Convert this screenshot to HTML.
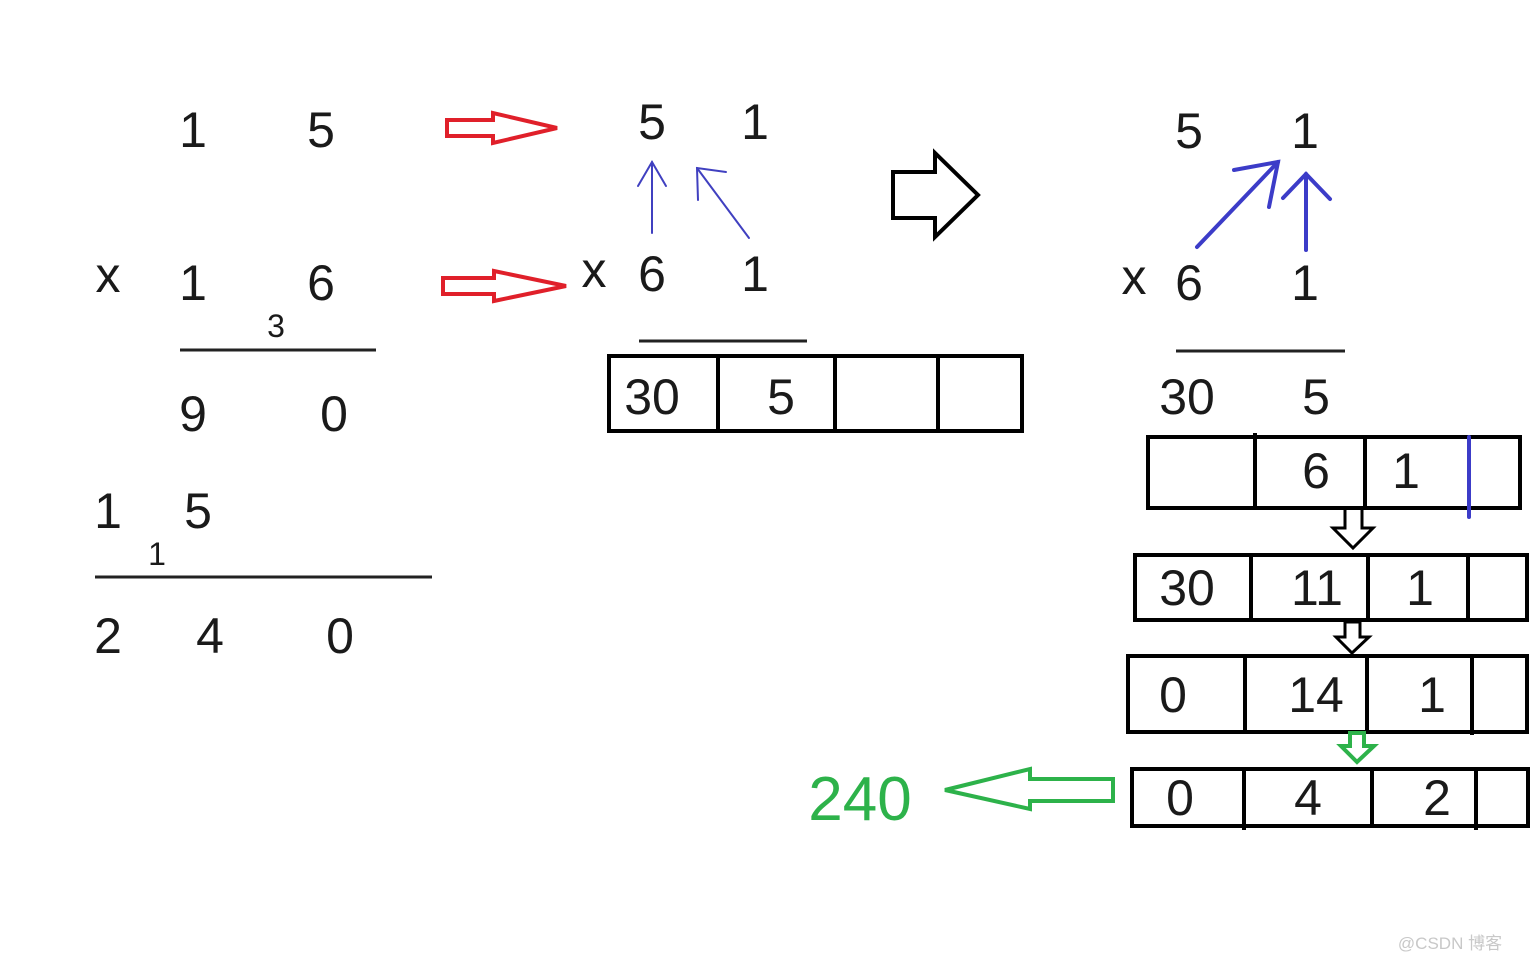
<!DOCTYPE html>
<html><head><meta charset="utf-8"><style>
html,body{margin:0;padding:0;background:#fff;}
svg{display:block;}
text{font-family:"Liberation Sans","Noto Sans CJK SC",sans-serif;fill:#1a1a1a;text-anchor:middle;}
</style></head><body>
<svg width="1536" height="960" viewBox="0 0 1536 960" xmlns="http://www.w3.org/2000/svg">
<g font-size="50">
<!-- left -->
<text x="193" y="147">1</text><text x="321" y="147">5</text>
<text x="108" y="292">x</text><text x="193" y="300">1</text><text x="321" y="300">6</text>
<text x="276" y="337" font-size="32">3</text>
<text x="193" y="431">9</text><text x="334" y="431">0</text>
<text x="108" y="528">1</text><text x="198" y="528">5</text>
<text x="157" y="565" font-size="32">1</text>
<text x="108" y="653">2</text><text x="210" y="653">4</text><text x="340" y="653">0</text>
<!-- middle -->
<text x="652" y="139">5</text><text x="755" y="139">1</text>
<text x="594" y="287">x</text><text x="652" y="291">6</text><text x="755" y="291">1</text>
<text x="652" y="414">30</text><text x="781" y="414">5</text>
<!-- right -->
<text x="1189" y="148">5</text><text x="1305" y="148">1</text>
<text x="1134" y="294">x</text><text x="1189" y="300">6</text><text x="1305" y="300">1</text>
<text x="1187" y="414">30</text><text x="1316" y="414">5</text>
<text x="1316" y="488">6</text><text x="1406" y="488">1</text>
<text x="1187" y="605">30</text><text x="1317" y="605">11</text><text x="1420" y="605">1</text>
<text x="1173" y="712">0</text><text x="1316" y="712">14</text><text x="1432" y="712">1</text>
<text x="1180" y="815">0</text><text x="1308" y="815">4</text><text x="1437" y="815">2</text>
<text x="860" y="820" font-size="62" style="fill:#2db24a">240</text>
</g>
<g stroke="#222" stroke-width="3" fill="none">
<line x1="180" y1="350" x2="376" y2="350"/>
<line x1="95" y1="577" x2="432" y2="577"/>
<line x1="639" y1="341" x2="807" y2="341"/>
<line x1="1176" y1="351" x2="1345" y2="351"/>
</g>
<g stroke="#000" stroke-width="4" fill="none">
<rect x="609" y="356" width="413" height="75"/>
<line x1="718" y1="356" x2="718" y2="431"/><line x1="835" y1="356" x2="835" y2="431"/><line x1="938" y1="356" x2="938" y2="433"/>
<rect x="1148" y="437" width="372" height="71"/>
<line x1="1255" y1="433" x2="1255" y2="508"/><line x1="1365" y1="437" x2="1365" y2="508"/>
<rect x="1135" y="555" width="392" height="65"/>
<line x1="1251" y1="555" x2="1251" y2="620"/><line x1="1368" y1="555" x2="1368" y2="622"/><line x1="1468" y1="555" x2="1468" y2="620"/>
<rect x="1128" y="656" width="399" height="76"/>
<line x1="1245" y1="656" x2="1245" y2="732"/><line x1="1367" y1="654" x2="1367" y2="732"/><line x1="1472" y1="656" x2="1472" y2="735"/>
<rect x="1132" y="769" width="396" height="57"/>
<line x1="1244" y1="769" x2="1244" y2="830"/><line x1="1372" y1="767" x2="1372" y2="826"/><line x1="1476" y1="771" x2="1476" y2="830"/>
<!-- black right arrow -->
<polygon points="893,172 935,172 935,153 978,195 935,237 935,218 893,218" stroke-linejoin="miter"/>
<!-- small down arrows -->
<polygon points="1345,508 1362,508 1362,528 1373,528 1353,548 1333,528 1345,528" stroke-width="3"/>
<polygon points="1345,622 1360,622 1360,637 1369,637 1352,653 1336,637 1345,637" stroke-width="3"/>
</g>
<polygon points="1350,733 1364,733 1364,746 1374,746 1357,762 1341,746 1350,746" stroke="#2db24a" stroke-width="4" fill="none"/>
<polygon points="945,790 1030,769 1030,779 1113,779 1113,801 1030,801 1030,809" stroke="#2db24a" stroke-width="4" fill="none"/>
<!-- red arrows -->
<polygon points="447,120 493,120 493,113 557,128 493,143 493,136 447,136" stroke="#e0202a" stroke-width="4" fill="none"/>
<polygon points="443,278 494,278 494,271 566,286 494,301 494,294 443,294" stroke="#e0202a" stroke-width="4" fill="none"/>
<!-- blue lines -->
<g stroke="#4040c0" stroke-width="2" fill="none" stroke-linecap="round">
<line x1="652" y1="233" x2="652" y2="162"/><polyline points="638,186 652,162 666,186"/>
<line x1="749" y1="238" x2="697" y2="168"/><polyline points="698,200 697,168 726,172"/>
</g>
<g stroke="#3c3cc8" stroke-width="4" fill="none" stroke-linecap="round">
<line x1="1197" y1="247" x2="1278" y2="162"/><polyline points="1234,170 1278,162 1269,207"/>
<line x1="1306" y1="250" x2="1306" y2="174"/><polyline points="1283,198 1306,174 1330,199"/>
<line x1="1469" y1="437" x2="1469" y2="517"/>
</g>
<text x="1450" y="949" font-size="17" style="fill:#c8c8c8">@CSDN 博客</text>
</svg>
</body></html>
